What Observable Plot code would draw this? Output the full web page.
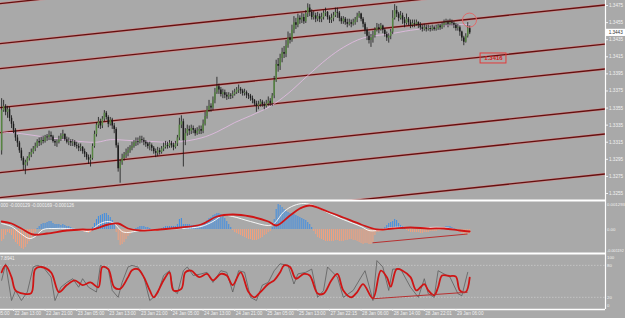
<!DOCTYPE html>
<html><head><meta charset="utf-8">
<script src="https://cdn.jsdelivr.net/npm/d3@7"></script>
<script src="https://cdn.jsdelivr.net/npm/@observablehq/plot@0.6"></script>
<style>
html,body{margin:0;padding:0;background:#a9a9a9;}
#chart{position:relative;width:625px;height:318px;overflow:hidden;background:#a9a9a9;}
#chart svg{position:absolute;left:0;display:block;overflow:hidden;}
</style></head><body><div id="chart"></div>
<script>
// ---------- DATA ----------
// bar j has time index j + T0 (30-minute bars, index 0 = 22 Jan 05:00)
const T0 = 10;
const firstOpen = 1.3305;
const close = [1.3352,1.3357,1.3350,1.3353,1.3343,1.3336,1.3329,1.3320,1.3314,
1.3305,1.3296,1.3288,1.3291,1.3296,1.3300,1.3303,1.3307,1.3310,
1.3316,1.3314,1.3317,1.3316,1.3321,1.3320,1.3323,1.3321,1.3316,1.3314,1.3315,1.3318,1.3322,1.3324,1.3318,1.3315,1.3316,1.3314,1.3315,1.3311,1.3310,1.3308,1.3309,1.3304,1.3301,1.3297,1.3294,1.3296,
1.3310,1.3324,1.3335,1.3339,1.3334,1.3342,1.3349,1.3344,1.3336,1.3341,1.3334,1.3330,1.3311,1.3284,1.3291,
1.3296,1.3300,1.3302,1.3305,1.3308,1.3310,1.3314,1.3316,1.3315,1.3318,1.3317,1.3315,1.3313,1.3310,1.3311,1.3308,1.3304,1.3302,1.3305,1.3303,1.3307,1.3309,1.3311,1.3310,1.3314,1.3311,1.3309,1.3313,1.3320,1.3335,
1.3339,1.3317,1.3325,1.3330,1.3328,1.3331,1.3329,1.3325,1.3328,1.3330,1.3328,1.3336,1.3345,1.3352,1.3357,1.3355,
1.3364,1.3373,1.3380,1.3376,1.3371,1.3373,1.3370,1.3368,1.3370,1.3369,1.3371,1.3373,1.3376,1.3377,1.3375,1.3372,1.3373,1.3370,1.3369,1.3366,1.3364,1.3360,1.3357,1.3359,1.3362,1.3359,1.3357,1.3360,1.3363,1.3360,1.3369,1.3387,1.3406,
1.3404,1.3413,1.3420,1.3418,1.3428,1.3437,1.3434,1.3446,1.3455,1.3452,1.3460,1.3458,1.3461,1.3456,1.3465,1.3472,1.3467,1.3461,1.3463,1.3459,1.3462,
1.3459,1.3461,1.3466,1.3467,1.3461,1.3458,1.3460,1.3463,1.3467,1.3466,1.3460,1.3456,1.3459,1.3455,1.3453,1.3455,1.3453,1.3455,1.3458,1.3462,1.3465,1.3459,1.3453,1.3446,1.3439,1.3434,1.3437,1.3440,1.3446,1.3449,1.3447,1.3451,1.3446,1.3441,1.3437,1.3439,1.3444,1.3460,1.3469,1.3465,
1.3460,1.3463,1.3458,1.3454,1.3459,1.3455,1.3452,1.3454,1.3453,1.3455,1.3452,1.3449,1.3447,1.3449,1.3447,1.3448,1.3447,1.3449,1.3447,1.3448,1.3451,1.3449,1.3452,1.3454,1.3455,1.3453,1.3455,1.3454,1.3452,1.3448,1.3449,1.3444,1.3437,1.3432,1.3439,1.3448,1.3443];
const high = [1.3366,1.3364,1.3359,1.3357,1.3356,1.3346,1.3339,1.3331,1.3323,
1.3316,1.3308,1.3298,1.3294,1.3298,1.3303,1.3307,1.3310,1.3314,
1.3318,1.3320,1.3321,1.3322,1.3323,1.3324,1.3328,1.3327,1.3323,1.3318,1.3318,1.3322,1.3325,1.3329,1.3325,1.3321,1.3320,1.3318,1.3318,1.3317,1.3315,1.3313,1.3313,1.3310,1.3307,1.3303,1.3300,1.3300,
1.3313,1.3328,1.3338,1.3344,1.3342,1.3345,1.3352,1.3351,1.3346,1.3344,1.3343,1.3337,1.3332,1.3314,1.3294,
1.3301,1.3303,1.3307,1.3309,1.3311,1.3315,1.3317,1.3320,1.3320,1.3322,1.3322,1.3320,1.3317,1.3315,1.3315,1.3313,1.3310,1.3307,1.3309,1.3308,1.3310,1.3314,1.3316,1.3315,1.3317,1.3316,1.3314,1.3316,1.3323,1.3343,
1.3346,1.3342,1.3331,1.3335,1.3334,1.3335,1.3334,1.3331,1.3332,1.3334,1.3334,1.3341,1.3350,1.3357,1.3364,1.3360,
1.3368,1.3378,1.3391,1.3383,1.3379,1.3377,1.3376,1.3373,1.3373,1.3372,1.3375,1.3377,1.3379,1.3382,1.3379,1.3377,1.3377,1.3375,1.3372,1.3371,1.3369,1.3365,1.3363,1.3363,1.3365,1.3364,1.3362,1.3364,1.3368,1.3366,1.3372,1.3392,1.3411,
1.3413,1.3418,1.3425,1.3427,1.3434,1.3444,1.3442,1.3452,1.3462,1.3460,1.3465,1.3463,1.3466,1.3465,1.3469,1.3477,1.3476,1.3470,1.3468,1.3466,1.3467,
1.3465,1.3466,1.3469,1.3472,1.3468,1.3463,1.3465,1.3467,1.3472,1.3472,1.3468,1.3462,1.3462,1.3461,1.3459,1.3459,1.3458,1.3459,1.3461,1.3466,1.3468,1.3466,1.3461,1.3455,1.3449,1.3444,1.3441,1.3445,1.3449,1.3454,1.3453,1.3454,1.3452,1.3448,1.3444,1.3442,1.3447,1.3469,1.3476,1.3474,
1.3467,1.3468,1.3466,1.3461,1.3465,1.3461,1.3458,1.3458,1.3458,1.3458,1.3456,1.3455,1.3452,1.3453,1.3452,1.3452,1.3451,1.3452,1.3451,1.3452,1.3453,1.3453,1.3455,1.3458,1.3459,1.3458,1.3459,1.3458,1.3456,1.3454,1.3453,1.3451,1.3445,1.3439,1.3442,1.3455,1.3451];
const low = [1.3300,1.3350,1.3346,1.3343,1.3339,1.3331,1.3325,1.3316,1.3309,
1.3302,1.3293,1.3282,1.3277,1.3287,1.3293,1.3297,1.3301,1.3304,
1.3308,1.3310,1.3311,1.3313,1.3314,1.3316,1.3317,1.3317,1.3314,1.3310,1.3309,1.3313,1.3316,1.3318,1.3316,1.3313,1.3311,1.3310,1.3310,1.3309,1.3307,1.3304,1.3304,1.3301,1.3297,1.3294,1.3289,1.3286,
1.3294,1.3308,1.3321,1.3331,1.3330,1.3331,1.3339,1.3341,1.3332,1.3334,1.3330,1.3325,1.3308,1.3280,1.3267,
1.3288,1.3293,1.3296,1.3298,1.3302,1.3305,1.3308,1.3310,1.3311,1.3313,1.3314,1.3311,1.3309,1.3307,1.3305,1.3304,1.3301,1.3297,1.3298,1.3300,1.3301,1.3304,1.3307,1.3307,1.3308,1.3308,1.3305,1.3307,1.3310,1.3317,
1.3331,1.3286,1.3311,1.3322,1.3323,1.3324,1.3325,1.3322,1.3323,1.3324,1.3324,1.3325,1.3334,1.3342,1.3350,1.3350,
1.3352,1.3360,1.3371,1.3371,1.3368,1.3366,1.3366,1.3364,1.3365,1.3365,1.3366,1.3369,1.3371,1.3372,1.3371,1.3369,1.3369,1.3366,1.3365,1.3363,1.3360,1.3357,1.3350,1.3353,1.3356,1.3356,1.3353,1.3355,1.3357,1.3357,1.3357,1.3366,1.3385,
1.3397,1.3399,1.3408,1.3413,1.3414,1.3425,1.3430,1.3432,1.3442,1.3447,1.3449,1.3453,1.3454,1.3453,1.3454,1.3461,1.3462,1.3458,1.3458,1.3455,1.3456,
1.3455,1.3455,1.3458,1.3462,1.3458,1.3454,1.3454,1.3456,1.3461,1.3460,1.3456,1.3453,1.3453,1.3452,1.3449,1.3451,1.3449,1.3451,1.3452,1.3455,1.3460,1.3456,1.3449,1.3441,1.3434,1.3430,1.3426,1.3431,1.3437,1.3444,1.3442,1.3445,1.3442,1.3438,1.3433,1.3431,1.3435,1.3441,1.3458,1.3461,
1.3456,1.3458,1.3453,1.3449,1.3452,1.3451,1.3448,1.3449,1.3449,1.3451,1.3448,1.3446,1.3444,1.3445,1.3444,1.3445,1.3444,1.3445,1.3445,1.3445,1.3446,1.3446,1.3447,1.3449,1.3451,1.3449,1.3451,1.3451,1.3448,1.3445,1.3445,1.3439,1.3433,1.3428,1.3431,1.3437,1.3441];

// moving average (sampled at bars)
const maBar = [0,10,22,35,48,55,65,75,88,101,109,118,126,136,145,155,165,173,183,197,207,217,227,237];
const maVal = [1.3327,1.3325,1.3321,1.3317,1.3315,1.3318,1.3317,1.3316,1.3315,1.3320,1.3327,1.3338,1.3346,1.3357,1.3372,1.3393,1.3413,1.3426,1.3437,1.3442,1.3446,1.3449,1.3452,1.3453];

// drawn channel lines (price at time index 0 and 320)
const channelTimes = [0, 320];
const channelStart = [1.34751,1.34282,1.33990,1.33533,1.33241,1.32773,1.32480,1.32012];
const channelEnd   = [1.35528,1.35059,1.34767,1.34310,1.34018,1.33550,1.33257,1.32789];

const priceTicks = [1.3475,1.3455,1.3435,1.3415,1.3395,1.3375,1.3355,1.3335,1.3315,1.3295,1.3275,1.3255];
const lastPrice = 1.3443;
const boxLabel = {t1: 252.5, t2: 265.6, p1: 1.34189, p2: 1.34072, text: "1.3416"};
const circleMark = {t: 246.9, p: 1.3458};

// MACD histogram (one value per bar)
const hist = [-0.0006,-0.0005,-0.0003,-0.00015,-0.0002,-0.0003,-0.0005,-0.00065,-0.00075,-0.00085,-0.00095,-0.001,-0.0009,-0.00075,-0.0006,-0.00045,-0.0003,-0.00015,
0.00005,0.00015,0.00025,0.0003,0.0003,0.00035,0.0004,0.0004,0.0003,0.00025,0.00025,0.00025,0.0002,0.00025,0.0002,0.00015,0.00015,0.0001,0.00005,
-0.00005,-0.00005,-0.0001,-0.0001,-0.0001,-0.00015,-0.00015,-0.0002,-0.00015,
0.0001,0.0003,0.0005,0.00065,0.0007,0.00075,0.0008,0.0008,0.0007,0.0006,0.00045,0.00025,
-0.00015,-0.00055,-0.0008,-0.00075,-0.00065,-0.0005,-0.00035,-0.00025,-0.00015,-0.00005,
0.00005,0.0001,0.00015,0.00015,0.00015,0.0001,0.0001,0.00005,
-0.00005,-0.0001,-0.0001,-0.0001,-0.00005,
0.00005,0.0001,0.00015,0.00015,0.00015,0.00015,0.00015,0.00015,0.00025,0.0005,0.00055,0.00025,0.00025,0.00025,0.00025,0.0002,0.0002,0.00015,0.00015,0.00015,0.00015,0.00025,0.00035,0.00045,0.00055,0.0006,0.0007,0.00075,0.0008,0.0008,0.00075,0.00065,0.00055,0.0004,0.00025,0.0001,
-0.00005,-0.00015,-0.0002,-0.00025,-0.0003,-0.00035,-0.0004,-0.00045,-0.0005,-0.0005,-0.00055,-0.00055,-0.00055,-0.0005,-0.00045,-0.0004,-0.0003,-0.00025,-0.00015,-0.0001,
0.0001,0.0005,0.001,0.00125,0.0012,0.0011,0.001,0.0009,0.00085,0.0008,0.0008,0.00075,0.0007,0.00065,0.0006,0.00055,0.0005,0.00045,0.00035,0.00025,0.0001,
-0.0001,-0.00025,-0.0004,-0.00045,-0.0005,-0.00055,-0.0006,-0.0006,-0.0006,-0.0006,-0.0006,-0.00055,-0.00055,-0.0006,-0.0006,-0.0006,-0.00055,-0.00055,-0.0005,-0.0005,-0.00055,-0.00055,-0.0006,-0.00065,-0.0007,-0.00075,-0.0007,-0.0007,-0.00075,-0.00075,-0.00065,-0.0003,-0.00015,-0.00015,-0.0001,-0.0001,
0.0001,0.0002,0.0003,0.00035,0.0004,0.0005,0.00045,0.0003,0.0002,0.00015,0.00005,
-0.00005,-0.0001,-0.00015,-0.00015,-0.00015,-0.00015,-0.00015,-0.0002,-0.0002,-0.00015,-0.00015,-0.00015,-0.0001,-0.0001,-0.0001,-0.0001,-0.00005,-0.00005,
0.00005,0.0001,0.00015,0.00015,0.00015,0.0001,0.00005,
-0.00005,-0.0001,-0.00015,-0.0002,-0.00025,-0.0003,-0.00025,-0.0002];
const macdBar = [0,5,9,14,17,21,27,33,41,44,50,54,57,61,64,70,80,91,101,107,112,117,126,135,138,143,148,153,158,165,173,182,186,190,198,207,216,224,232,237];
const macdVal = [0.0003,0.00015,-0.00015,-0.00045,-0.00035,0,0.00005,0.00005,-0.00005,-0.0001,0.0003,0.0004,0.0003,-0.0001,-0.00015,-0.00005,0,0.00005,0.00015,0.0004,0.0007,0.00065,0.0004,0.0002,0.0003,0.0009,0.0012,0.0013,0.0012,0.00085,0.0005,0.00015,-0.00005,-0.00005,0.0001,0.0001,0.0001,0.0001,-0.00005,-0.0001];
const signalBar = [0,5,10,16,23,33,41,46,54,59,64,70,80,91,101,109,117,126,135,139,146,151,156,165,173,182,190,198,207,216,224,232,237];
const signalVal = [0.0004,0.0003,0.00005,-0.00025,-0.0002,-0.00005,0,0,0.00025,0.0003,0.00005,-0.00005,0,0.0001,0.00025,0.00065,0.00075,0.00065,0.0004,0.0002,0.0007,0.00105,0.0012,0.0009,0.0006,0.00025,0,0.00005,0.0001,0.00005,0.00005,-0.00005,-0.0001];
const macdTicks = [0.001293, 0, -0.001192];
const macdTickText = ["0.001293", "0.00", "-0.001192"];
const macdHeader = "000 -0.000129 -0.000169 -0.000126";
const macdTrend = {t1: 197.8, v1: -0.000665, t2: 245.9, v2: -0.000225};

// Stochastic
const dBar = [0,2,5,7,11,15,17,20,25,29,33,37,41,45,49,51,54,57,60,64,66,69,72,75,77,79,82,85,87,91,93,96,100,104,107,111,114,117,121,125,128,131,135,138,141,143,146,149,153,156,160,163,167,170,173,177,180,183,188,192,195,197,200,203,207,210,214,216,219,221,223,227,230,232,235,237];
const dVal = [67,80,58,33,27,28,73,77,67,30,43,52,43,48,39,77,73,39,36,58,71,73,58,33,20,30,52,67,33,36,67,70,58,64,52,64,61,43,67,30,20,30,45,52,67,80,77,55,64,61,27,27,52,64,33,20,30,45,18,70,58,40,73,70,58,33,45,33,24,39,61,60,59,33,30,57];
const kBar = [0,2,5,7,10,13,16,18,21,25,27,30,33,36,39,41,44,48,50,54,56,59,61,64,66,69,72,75,79,82,85,87,89,92,94,97,101,104,107,111,114,117,120,123,126,129,132,135,138,141,145,148,150,154,157,160,163,165,170,173,178,182,184,188,190,193,196,198,202,207,211,214,216,219,221,224,227,231,233,236];
const kVal = [52,83,14,33,14,30,77,80,77,58,14,39,48,55,39,55,39,30,80,73,33,20,48,77,80,77,58,14,27,61,70,33,27,70,77,61,64,67,48,70,67,30,70,67,20,14,43,48,70,83,80,45,64,67,73,20,33,77,58,20,33,58,70,14,89,77,33,73,73,39,20,55,27,20,70,64,58,27,23,67];
const stochTicks = [100, 80, 20, 0];
const stochLevels = [80, 20];
const stochHeader = "7.8941";
const stochTrend = {t1: 197.8, v1: 17.3, t2: 245.9, v2: 29.6};

// time axis (time index of each label)
const timeTicks = [0,16,32,48,64,80,96,112,128,144,160,176,192,208,224,240];
const timeLabels = ["22 Jan 05:00","22 Jan 13:00","22 Jan 21:00","23 Jan 05:00","23 Jan 13:00","23 Jan 21:00","24 Jan 05:00","24 Jan 13:00","24 Jan 21:00","25 Jan 05:00","25 Jan 13:00","27 Jan 22:15","28 Jan 06:00","28 Jan 14:00","28 Jan 22:01","29 Jan 06:00"];

// ---------- RENDER ----------
const W = 625, MR = 20;
const xDomain = [9.42, 315.75];
const FONT = "'Liberation Sans', Arial, sans-serif";
const TXT = "#f2f2f2";
const SEP = "#ffffff";
const bars = close.map((c, i) => ({t: i + T0, o: i ? close[i - 1] : firstOpen, h: high[i], l: low[i], c}));
const chans = channelStart.map((a, i) => ({a, b: channelEnd[i]}));

function mk(height, yDomain, marks, mb = 0) {
  return Plot.plot({
    width: W, height, marginLeft: 0, marginRight: MR, marginTop: 0, marginBottom: mb,
    x: {type: "linear", domain: xDomain, axis: null},
    y: {type: "linear", domain: yDomain, axis: null},
    style: {background: "transparent", fontFamily: FONT, fontSize: "4.6px", color: TXT},
    marks
  });
}
function sideLabel(value, text, dy, size = 4.3) {
  return Plot.text([value], {frameAnchor: "right", y: d => d, text: () => text, textAnchor: "start", dx: 1.5, dy, fill: TXT, fontSize: size});
}

const main = mk(200, [1.32468, 1.34809], [
  Plot.link(chans, {x1: () => channelTimes[0], x2: () => channelTimes[1], y1: "a", y2: "b", stroke: "#c99191", strokeWidth: 2.6, clip: true}),
  Plot.link(chans, {x1: () => channelTimes[0], x2: () => channelTimes[1], y1: "a", y2: "b", stroke: "#641010", strokeWidth: 1.3, clip: true}),
  Plot.line(maBar.map((b, i) => ({t: b + T0, p: maVal[i]})), {x: "t", y: "p", stroke: "#e6bde6", strokeWidth: 0.8, curve: "catmull-rom", clip: true}),
  Plot.ruleX(bars, {x: "t", y1: "l", y2: "h", stroke: "#151515", strokeWidth: 0.8}),
  Plot.ruleX(bars.filter(d => d.c >= d.o), {x: "t", y1: "o", y2: "c", stroke: "#568541", strokeWidth: 1.5}),
  Plot.ruleX(bars.filter(d => d.c < d.o), {x: "t", y1: "o", y2: "c", stroke: "#1b1b1b", strokeWidth: 1.5}),
  Plot.dot([circleMark], {x: "t", y: "p", r: 7, stroke: "#e06a6a", strokeWidth: 1, fill: "none"}),
  Plot.rect([boxLabel], {x1: "t1", x2: "t2", y1: "p1", y2: "p2", stroke: "#e23a3a", strokeWidth: 1, fill: "none"}),
  Plot.text([boxLabel], {x: d => (d.t1 + d.t2) / 2, y: d => (d.p1 + d.p2) / 2, text: "text", fill: "#d42020", fontSize: 6, fontWeight: "bold"}),
  Plot.ruleY([1.32468], {stroke: SEP, strokeWidth: 2}),
  Plot.ruleX([xDomain[1]], {stroke: SEP, strokeWidth: 1.2}),
  Plot.axisY(priceTicks, {anchor: "right", tickSize: 2, tickPadding: 1.5, tickFormat: d => d.toFixed(4), color: TXT}),
  Plot.rect([lastPrice], {x1: () => xDomain[1] + 0.4, x2: () => xDomain[1] + 11, y1: d => d - 0.00042, y2: d => d + 0.00042, fill: "#ffffff"}),
  Plot.text([lastPrice], {x: () => xDomain[1] + 1.6, y: d => d, text: d => d.toFixed(4), textAnchor: "start", fill: "#333333"})
]);

const macd = mk(53, [-0.0012, 0.00145], [
  Plot.ruleX(hist.map((v, i) => ({t: i + T0, v})).filter(d => d.v >= 0), {x: "t", y1: 0, y2: "v", stroke: "#3b8de6", strokeWidth: 1}),
  Plot.ruleX(hist.map((v, i) => ({t: i + T0, v})).filter(d => d.v < 0), {x: "t", y1: 0, y2: "v", stroke: "#f4a07c", strokeWidth: 1}),
  Plot.link([macdTrend], {x1: "t1", y1: "v1", x2: "t2", y2: "v2", stroke: "#b83030", strokeWidth: 1}),
  Plot.line(macdBar.map((b, i) => ({t: b + T0, v: macdVal[i]})), {x: "t", y: "v", stroke: "#ffffff", strokeWidth: 0.9, curve: "catmull-rom"}),
  Plot.line(signalBar.map((b, i) => ({t: b + T0, v: signalVal[i]})), {x: "t", y: "v", stroke: "#cf1515", strokeWidth: 1.8, curve: "catmull-rom"}),
  Plot.text([macdHeader], {frameAnchor: "top-left", dx: 0, dy: 3, textAnchor: "start", lineAnchor: "top", fill: TXT}),
  Plot.ruleY([0.00145], {stroke: SEP, strokeWidth: 2}),
  Plot.ruleY([-0.0012], {stroke: SEP, strokeWidth: 2}),
  Plot.ruleX([xDomain[1]], {stroke: SEP, strokeWidth: 1.2}),
  sideLabel(macdTicks[0], macdTickText[0], 0.5),
  sideLabel(macdTicks[1], macdTickText[1], 0),
  sideLabel(macdTicks[2], macdTickText[2], -3, 3.8)
]);

const stoch = mk(65, [-2.8, 102.3], [
  Plot.ruleY(stochLevels, {stroke: "#c9c9c9", strokeWidth: 0.8, strokeDasharray: "1.5,1.5"}),
  Plot.line(kBar.map((b, i) => ({t: b + T0, v: kVal[i]})), {x: "t", y: "v", stroke: "#5e5e5e", strokeWidth: 0.8}),
  Plot.line(dBar.map((b, i) => ({t: b + T0, v: dVal[i]})), {x: "t", y: "v", stroke: "#cf1515", strokeWidth: 1.8, curve: "catmull-rom"}),
  Plot.link([stochTrend], {x1: "t1", y1: "v1", x2: "t2", y2: "v2", stroke: "#b83030", strokeWidth: 1}),
  Plot.text([stochHeader], {frameAnchor: "top-left", dx: 0, dy: 3.5, textAnchor: "start", lineAnchor: "top", fill: TXT}),
  Plot.ruleY([102.3], {stroke: SEP, strokeWidth: 2}),
  Plot.ruleY([-2.8], {stroke: SEP, strokeWidth: 1.5}),
  Plot.ruleX([xDomain[1]], {stroke: SEP, strokeWidth: 1.2, y1: -2.8, y2: 102.3}),
  sideLabel(stochTicks[0], String(stochTicks[0]), 2.5),
  sideLabel(stochTicks[1], String(stochTicks[1]), 0),
  sideLabel(stochTicks[2], String(stochTicks[2]), 0),
  sideLabel(stochTicks[3], String(stochTicks[3]), -2.5),
  Plot.axisX(timeTicks, {anchor: "bottom", tickSize: 2, tickFormat: () => "", color: TXT}),
  Plot.text(timeTicks, {x: d => d, text: (d, i) => timeLabels[i], frameAnchor: "bottom", lineAnchor: "top", textAnchor: "start", dx: 1, dy: 2.5, fill: TXT})
], 9);

const root = document.getElementById("chart");
[[main, 0], [macd, 200], [stoch, 253]].forEach(([svg, top]) => {
  svg.style.position = "absolute";
  svg.style.top = top + "px";
  svg.style.left = "0px";
  root.appendChild(svg);
});
</script></body></html>
